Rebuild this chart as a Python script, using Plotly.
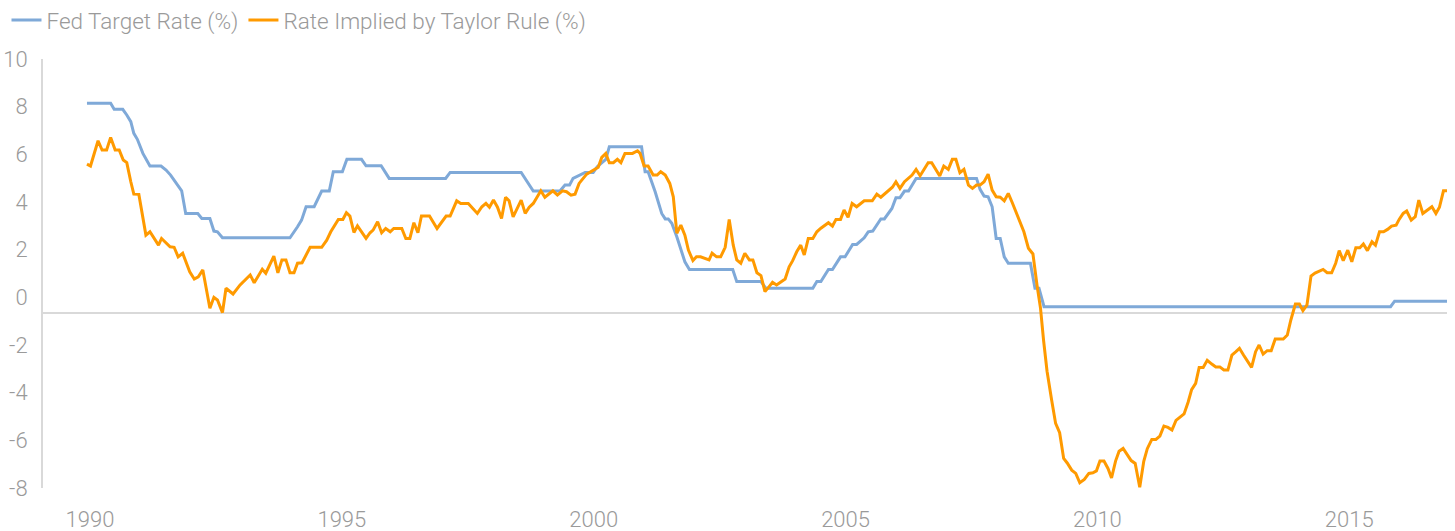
import plotly.graph_objects as go

# ---- data (decimal years) ----
fed_year = [1990.00, 1990.47, 1990.54, 1990.71, 1990.79, 1990.87, 1990.93, 1991.00, 1991.11, 1991.25,
            1991.47, 1991.57, 1991.66, 1991.75, 1991.88, 1991.96, 1992.20, 1992.28, 1992.44, 1992.52,
            1992.59, 1992.69, 1994.03, 1994.18, 1994.26, 1994.35, 1994.51, 1994.66, 1994.81, 1994.89,
            1995.07, 1995.16, 1995.45, 1995.54, 1995.84, 1996.00, 1997.12, 1997.21, 1998.62, 1998.86,
            1999.39, 1999.49, 1999.58, 1999.65, 1999.89, 2000.05, 2000.13, 2000.30, 2000.37, 2001.01,
            2001.08, 2001.14, 2001.28, 2001.41, 2001.48, 2001.54, 2001.61, 2001.71, 2001.87, 2001.96,
            2002.82, 2002.90, 2003.38, 2003.48, 2004.41, 2004.49, 2004.57, 2004.72, 2004.80, 2004.96,
            2005.05, 2005.20, 2005.28, 2005.43, 2005.51, 2005.60, 2005.76, 2005.83, 2005.98, 2006.06,
            2006.14, 2006.23, 2006.31, 2006.46, 2007.66, 2007.73, 2007.81, 2007.89, 2007.97, 2008.05,
            2008.13, 2008.21, 2008.29, 2008.73, 2008.82, 2008.90, 2009.00, 2015.88, 2015.96, 2017.00]
fed_rate = [8.14, 8.14, 7.89, 7.89, 7.65, 7.37, 6.88, 6.63, 6.04, 5.51,
            5.51, 5.34, 5.13, 4.85, 4.47, 3.52, 3.52, 3.31, 3.31, 2.78,
            2.75, 2.50, 2.50, 2.96, 3.24, 3.80, 3.80, 4.46, 4.46, 5.27,
            5.27, 5.79, 5.79, 5.52, 5.52, 4.99, 4.99, 5.24, 5.24, 4.46,
            4.46, 4.71, 4.71, 4.99, 5.24, 5.24, 5.48, 5.79, 6.32, 6.32,
            5.27, 5.27, 4.43, 3.52, 3.29, 3.29, 3.11, 2.54, 1.49, 1.17,
            1.17, 0.66, 0.66, 0.38, 0.38, 0.66, 0.66, 1.17, 1.17, 1.70,
            1.70, 2.22, 2.22, 2.50, 2.75, 2.78, 3.29, 3.29, 3.73, 4.18,
            4.18, 4.46, 4.46, 4.99, 4.99, 4.53, 4.25, 4.22, 3.80, 2.47,
            2.47, 1.70, 1.43, 1.43, 0.38, 0.38, -0.39, -0.39, -0.16, -0.16]

taylor_year = [1990.00, 1990.07, 1990.22, 1990.30, 1990.39, 1990.47, 1990.56, 1990.64, 1990.72, 1990.79,
               1990.87, 1990.93, 1991.03, 1991.17, 1991.25, 1991.42, 1991.48, 1991.65, 1991.73, 1991.81,
               1991.90, 1992.04, 1992.13, 1992.21, 1992.30, 1992.44, 1992.52, 1992.59, 1992.69, 1992.76,
               1992.90, 1993.04, 1993.24, 1993.32, 1993.48, 1993.55, 1993.71, 1993.79, 1993.87, 1993.95,
               1994.03, 1994.11, 1994.18, 1994.27, 1994.43, 1994.49, 1994.66, 1994.76, 1994.84, 1994.99,
               1995.08, 1995.15, 1995.22, 1995.30, 1995.37, 1995.54, 1995.62, 1995.68, 1995.77, 1995.85,
               1995.93, 1996.02, 1996.09, 1996.25, 1996.33, 1996.41, 1996.49, 1996.57, 1996.64, 1996.80,
               1996.95, 1997.13, 1997.21, 1997.34, 1997.42, 1997.57, 1997.75, 1997.84, 1997.92, 1997.99,
               1998.07, 1998.15, 1998.23, 1998.31, 1998.38, 1998.46, 1998.62, 1998.70, 1998.78, 1998.86,
               1999.01, 1999.09, 1999.25, 1999.34, 1999.44, 1999.52, 1999.61, 1999.69, 1999.77, 1999.92,
               2000.07, 2000.15, 2000.22, 2000.30, 2000.37, 2000.45, 2000.53, 2000.60, 2000.68, 2000.83,
               2000.93, 2000.98, 2001.06, 2001.14, 2001.24, 2001.32, 2001.39, 2001.48, 2001.57, 2001.64,
               2001.71, 2001.79, 2001.87, 2001.94, 2002.03, 2002.10, 2002.18, 2002.35, 2002.41, 2002.50,
               2002.58, 2002.67, 2002.75, 2002.83, 2002.90, 2002.98, 2003.06, 2003.15, 2003.22, 2003.30,
               2003.38, 2003.46, 2003.55, 2003.61, 2003.69, 2003.78, 2003.86, 2003.94, 2004.01, 2004.09,
               2004.17, 2004.24, 2004.32, 2004.41, 2004.49, 2004.57, 2004.64, 2004.72, 2004.80, 2004.87,
               2004.96, 2005.03, 2005.11, 2005.19, 2005.28, 2005.43, 2005.59, 2005.68, 2005.76, 2005.99,
               2006.06, 2006.14, 2006.23, 2006.38, 2006.46, 2006.54, 2006.70, 2006.77, 2006.93, 2007.01,
               2007.10, 2007.18, 2007.25, 2007.33, 2007.41, 2007.50, 2007.58, 2007.66, 2007.73, 2007.81,
               2007.89, 2007.97, 2008.05, 2008.13, 2008.21, 2008.29, 2008.37, 2008.44, 2008.52, 2008.60,
               2008.69, 2008.78, 2008.86, 2008.93, 2008.99, 2009.06, 2009.15, 2009.23, 2009.31, 2009.39,
               2009.46, 2009.55, 2009.63, 2009.71, 2009.80, 2009.89, 2009.97, 2010.04, 2010.11, 2010.19,
               2010.27, 2010.34, 2010.42, 2010.49, 2010.57, 2010.65, 2010.73, 2010.81, 2010.90, 2010.98,
               2011.05, 2011.14, 2011.22, 2011.30, 2011.38, 2011.46, 2011.54, 2011.62, 2011.69, 2011.78,
               2011.86, 2011.93, 2012.01, 2012.08, 2012.16, 2012.24, 2012.33, 2012.41, 2012.49, 2012.57,
               2012.65, 2012.73, 2012.81, 2012.88, 2012.96, 2013.04, 2013.12, 2013.20, 2013.27, 2013.35,
               2013.43, 2013.51, 2013.59, 2013.75, 2013.83, 2013.90, 2013.99, 2014.07, 2014.14, 2014.22,
               2014.30, 2014.38, 2014.47, 2014.54, 2014.62, 2014.71, 2014.79, 2014.86, 2014.94, 2015.03,
               2015.11, 2015.19, 2015.27, 2015.34, 2015.42, 2015.51, 2015.58, 2015.66, 2015.74, 2015.82,
               2015.90, 2015.99, 2016.05, 2016.13, 2016.20, 2016.29, 2016.37, 2016.44, 2016.52, 2016.61,
               2016.70, 2016.78, 2016.85, 2016.93, 2017.00]
taylor_rate = [5.59, 5.51, 6.57, 6.18, 6.18, 6.71, 6.18, 6.18, 5.76, 5.65,
               4.85, 4.33, 4.32, 2.61, 2.75, 2.19, 2.47, 2.12, 2.10, 1.70,
               1.85, 1.07, 0.77, 0.86, 1.15, -0.46, 0.00, -0.11, -0.64, 0.38,
               0.14, 0.52, 0.94, 0.61, 1.18, 1.01, 1.73, 1.03, 1.57, 1.57,
               1.03, 1.03, 1.43, 1.45, 2.10, 2.10, 2.10, 2.40, 2.75, 3.27,
               3.27, 3.55, 3.41, 2.72, 3.00, 2.47, 2.71, 2.82, 3.17, 2.71,
               2.89, 2.75, 2.89, 2.89, 2.47, 2.47, 3.13, 2.71, 3.41, 3.41,
               2.89, 3.41, 3.41, 4.05, 3.94, 3.94, 3.52, 3.80, 3.94, 3.78,
               4.08, 3.78, 3.31, 4.20, 4.05, 3.38, 4.08, 3.52, 3.78, 3.94,
               4.47, 4.20, 4.47, 4.29, 4.47, 4.43, 4.29, 4.33, 4.78, 5.17,
               5.37, 5.46, 5.87, 6.04, 5.65, 5.65, 5.79, 5.65, 6.04, 6.04,
               6.15, 6.04, 5.51, 5.51, 5.13, 5.13, 5.27, 5.13, 4.78, 4.22,
               2.69, 3.03, 2.61, 1.98, 1.54, 1.70, 1.70, 1.57, 1.85, 1.70,
               1.70, 2.10, 3.27, 2.19, 1.57, 1.43, 1.85, 1.57, 1.57, 1.03,
               0.91, 0.24, 0.47, 0.63, 0.52, 0.66, 0.77, 1.28, 1.54, 1.91,
               2.19, 1.78, 2.47, 2.47, 2.75, 2.90, 3.00, 3.13, 2.99, 3.27,
               3.27, 3.66, 3.36, 3.94, 3.80, 4.05, 4.05, 4.33, 4.20, 4.62,
               4.85, 4.57, 4.85, 5.13, 5.37, 5.10, 5.65, 5.65, 5.09, 5.51,
               5.37, 5.79, 5.79, 5.23, 5.37, 4.71, 4.57, 4.71, 4.71, 4.85,
               5.17, 4.50, 4.22, 4.20, 4.05, 4.36, 3.97, 3.59, 3.24, 2.75,
               2.06, 1.82, 0.52, -0.45, -1.79, -3.10, -4.30, -5.29, -5.68, -6.76,
               -6.95, -7.25, -7.39, -7.78, -7.64, -7.39, -7.36, -7.28, -6.87, -6.87,
               -7.18, -7.58, -6.87, -6.46, -6.34, -6.58, -6.85, -6.97, -7.97, -6.88,
               -6.35, -5.96, -5.96, -5.82, -5.40, -5.46, -5.57, -5.16, -5.05, -4.89,
               -4.40, -3.87, -3.61, -2.94, -2.94, -2.64, -2.80, -2.92, -2.92, -3.05,
               -3.05, -2.42, -2.28, -2.14, -2.42, -2.70, -2.94, -2.28, -2.00, -2.38,
               -2.24, -2.24, -1.75, -1.75, -1.58, -0.95, -0.28, -0.28, -0.56, -0.32,
               0.89, 1.02, 1.09, 1.17, 1.03, 1.03, 1.43, 1.96, 1.54, 1.98,
               1.49, 2.08, 2.08, 2.24, 1.96, 2.33, 2.19, 2.75, 2.75, 2.85,
               2.99, 3.03, 3.27, 3.52, 3.62, 3.24, 3.38, 4.08, 3.52, 3.66,
               3.80, 3.52, 3.78, 4.47, 4.47]

year_ticks = [1990, 1995, 2000, 2005, 2010, 2015]
y_ticks = [10, 8, 6, 4, 2, 0, -2, -4, -6, -8]
axis_cross = -0.66  # value where the horizontal axis line crosses

FED_COLOR = "#7fa9d8"
TAYLOR_COLOR = "#ff9a00"
TEXT_COLOR = "#9a9a9a"
LINE_GRAY = "#d9d9d9"
FONT = "Roboto, 'Liberation Sans', Arial, sans-serif"

fig = go.Figure()
fig.add_trace(go.Scatter(x=fed_year, y=fed_rate, mode="lines", name="Fed Target Rate (%)",
                         line=dict(color=FED_COLOR, width=3)))
fig.add_trace(go.Scatter(x=taylor_year, y=taylor_rate, mode="lines",
                         name="Rate Implied by Taylor Rule (%)",
                         line=dict(color=TAYLOR_COLOR, width=3)))

fig.add_shape(type="line", xref="paper", yref="y", x0=0, x1=1, y0=axis_cross, y1=axis_cross,
              line=dict(color=LINE_GRAY, width=2), layer="below")

fig.update_layout(
    width=1455, height=531,
    margin=dict(l=43, r=8, t=59, b=43, autoexpand=False),
    plot_bgcolor="white", paper_bgcolor="white",
    font=dict(family=FONT, color=TEXT_COLOR, size=22, weight=300),
    showlegend=True,
    legend=dict(orientation="h", x=-0.026, xanchor="left", y=1.09, yanchor="middle",
                font=dict(size=22.5, color=TEXT_COLOR, family=FONT, weight=300),
                bgcolor="rgba(0,0,0,0)", itemwidth=30, traceorder="normal"),
    xaxis=dict(range=[1989.127, 2017.0], tickvals=[y + 0.06 for y in year_ticks],
               ticktext=[str(y) for y in year_ticks], showgrid=False, zeroline=False,
               showline=False, ticks="", ticklabelstandoff=16,
               tickfont=dict(size=22, color=TEXT_COLOR, family=FONT, weight=300)),
    yaxis=dict(range=[-8, 10], tickvals=y_ticks, ticktext=[str(v) for v in y_ticks],
               showgrid=False, zeroline=False, showline=True, linecolor=LINE_GRAY, linewidth=2,
               ticks="", ticklabelstandoff=9,
               tickfont=dict(size=22, color=TEXT_COLOR, family=FONT, weight=300)),
)

fig.write_html("out.html", config={"displayModeBar": False},
               post_script="document.body.style.margin='0';")
